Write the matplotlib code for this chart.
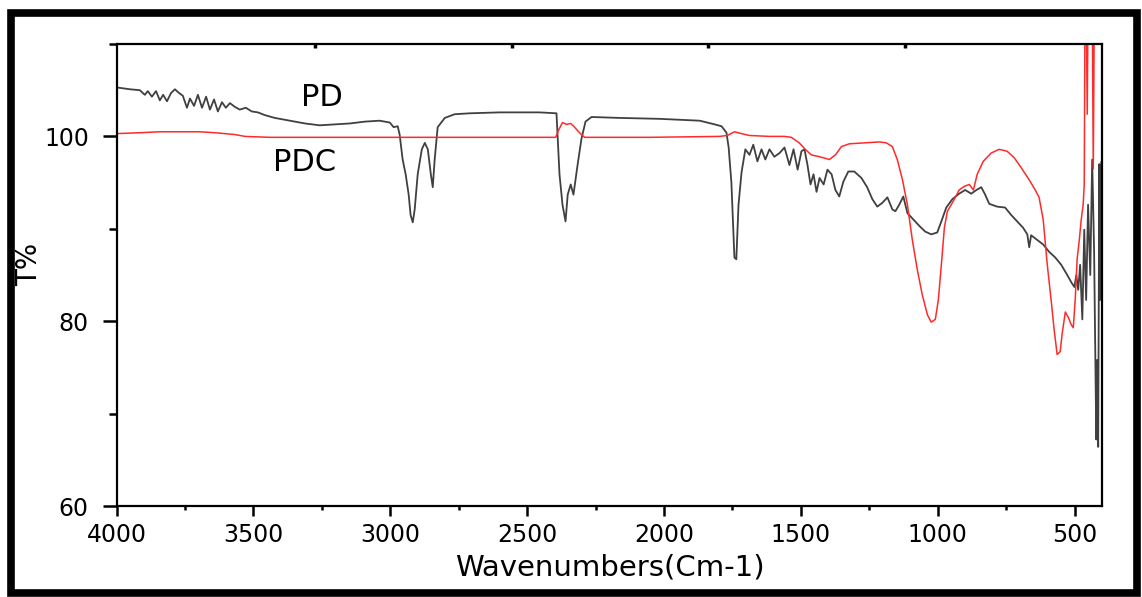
import numpy as np
import matplotlib
matplotlib.use("Agg")
import matplotlib.pyplot as plt
from matplotlib.patches import Rectangle
from matplotlib.ticker import MultipleLocator

plt.rcParams['font.family'] = ['DejaVu Sans']

# PD spectrum (wavenumber, %T)
pd_wn = [4000, 3951, 3915, 3897, 3886, 3871, 3856, 3842, 3830, 3816, 3801, 3787,
         3772, 3758, 3743, 3732, 3717, 3703, 3688, 3673, 3659, 3644, 3630, 3615,
         3601, 3586, 3568, 3550, 3528, 3506, 3484, 3458, 3422, 3367, 3312, 3258,
         3203, 3148, 3093, 3039, 3002, 2988, 2973, 2966, 2955, 2944, 2933, 2926,
         2918, 2911, 2900, 2885, 2874, 2863, 2852, 2845, 2838, 2827, 2801, 2765,
         2710, 2601, 2455, 2393, 2382, 2371, 2360, 2352, 2341, 2331, 2316, 2302,
         2287, 2265, 2162, 2016, 1870, 1815, 1790, 1772, 1764, 1754, 1743, 1736,
         1728, 1717, 1703, 1688, 1674, 1659, 1644, 1630, 1615, 1597, 1578, 1560,
         1542, 1527, 1512, 1498, 1487, 1476, 1465, 1454, 1443, 1432, 1417, 1403,
         1388, 1374, 1360, 1345, 1327, 1305, 1279, 1258, 1239, 1221, 1203, 1184,
         1166, 1155, 1141, 1126, 1111, 1089, 1067, 1046, 1024, 1002, 987, 969,
         947, 922, 900, 878, 859, 841, 827, 812, 783, 754, 732, 710,
         688, 673, 666, 659, 637, 615, 593, 571, 549, 527, 512, 501,
         494, 487, 480, 472, 465, 458, 451, 443, 436, 429, 421, 418,
         414, 410, 407, 403]
pd_t = [105.3, 105.1, 105.0, 104.5, 104.9, 104.3, 104.9, 103.9, 104.5, 103.8, 104.7, 105.1,
        104.7, 104.4, 103.1, 104.1, 103.3, 104.5, 103.1, 104.3, 102.9, 104.0, 102.7, 103.7,
        103.1, 103.6, 103.2, 102.9, 103.1, 102.7, 102.6, 102.3, 102.0, 101.7, 101.4, 101.2,
        101.3, 101.4, 101.6, 101.7, 101.5, 101.0, 101.1, 100.2, 97.5, 95.9, 93.7, 91.5,
        90.7, 92.1, 95.9, 98.6, 99.3, 98.6, 95.9, 94.5, 97.5, 101.0, 102.0, 102.4,
        102.5, 102.6, 102.6, 102.5, 95.9, 92.6, 90.8, 93.7, 94.8, 93.7, 96.9, 99.7,
        101.6, 102.1, 102.0, 101.9, 101.7, 101.3, 101.1, 100.4, 98.8, 95.0, 86.9, 86.7,
        92.6, 96.1, 98.6, 98.0, 99.1, 97.3, 98.6, 97.5, 98.6, 97.8, 98.2, 98.8,
        96.9, 98.6, 96.4, 98.4, 98.6, 96.9, 94.8, 95.9, 94.0, 95.5, 94.8, 96.4,
        95.9, 94.2, 93.5, 95.1, 96.2, 96.2, 95.5, 94.5, 93.2, 92.4, 92.8, 93.4,
        92.1, 91.9, 92.6, 93.5, 91.7, 91.0, 90.3, 89.7, 89.4, 89.6, 90.8, 92.3,
        93.2, 93.8, 94.2, 93.8, 94.2, 94.5, 93.7, 92.7, 92.4, 92.3, 91.5, 90.8,
        90.1, 89.4, 88.0, 89.3, 88.8, 88.3, 87.5, 86.9, 86.1, 85.0, 84.2, 83.7,
        85.0, 83.4, 86.1, 80.2, 89.9, 82.3, 92.6, 85.0, 97.5, 87.7, 67.2, 75.8,
        66.4, 97.0, 82.3, 97.2]

# PDC spectrum
pdc_wn = [4000, 3915, 3842, 3768, 3696, 3641, 3604, 3568, 3531, 3440, 3148, 2783,
          2396, 2385, 2371, 2356, 2341, 2327, 2309, 2290, 2053, 1798, 1769, 1743,
          1717, 1688, 1615, 1560, 1535, 1506, 1484, 1462, 1432, 1396, 1374, 1352,
          1323, 1268, 1214, 1188, 1166, 1148, 1129, 1111, 1093, 1075, 1057, 1038,
          1024, 1009, 998, 987, 976, 965, 951, 936, 922, 903, 885, 870,
          856, 834, 805, 776, 747, 721, 695, 666, 644, 630, 615, 600,
          586, 575, 564, 553, 545, 534, 523, 512, 505, 498, 491, 483,
          476, 469, 465, 462, 458, 454, 451, 444, 440, 436, 432, 428, 424]
pdc_t = [100.3, 100.4, 100.5, 100.5, 100.5, 100.4, 100.3, 100.2, 100.0, 99.9, 99.9, 99.9,
         99.9, 100.7, 101.5, 101.3, 101.4, 101.0, 100.4, 99.9, 99.9, 100.0, 100.1, 100.5,
         100.3, 100.1, 100.0, 100.0, 99.9, 99.3, 98.6, 98.0, 97.8, 97.5, 98.0, 98.9,
         99.2, 99.3, 99.4, 99.3, 98.9, 97.5, 95.3, 92.6, 88.8, 85.6, 82.9, 80.7,
         79.9, 80.2, 82.3, 86.1, 90.1, 91.9, 92.6, 93.4, 94.2, 94.6, 94.8, 94.2,
         95.9, 97.3, 98.2, 98.6, 98.4, 97.7, 96.6, 95.3, 94.2, 93.4, 91.0, 86.1,
         82.3, 79.1, 76.4, 76.7, 78.8, 81.0, 80.4, 79.6, 79.3, 82.3, 86.7, 88.8,
         91.0, 92.6, 94.8, 115, 115, 102.4, 115, 115, 115, 115, 96.5, 115, 115]

x_ticks = [4000, 3500, 3000, 2500, 2000, 1500, 1000, 500]
y_ticks = [60, 80, 100]
top_marks = [3275, 2557, 1838, 1119]

fig = plt.figure(figsize=(11.42, 5.97), dpi=100)
ax = fig.add_axes([0.1021, 0.1524, 0.8629, 0.7739])

ax.plot(pd_wn, pd_t, color='#404040', lw=1.3)
ax.plot(pdc_wn, pdc_t, color='#ff2a2a', lw=1.1)

ax.set_xlim(4000, 400)
ax.set_ylim(60, 110)
ax.set_xticks(x_ticks)
ax.set_yticks(y_ticks)
ax.xaxis.set_minor_locator(MultipleLocator(250))
ax.yaxis.set_minor_locator(MultipleLocator(10))

ax.tick_params(axis='x', which='major', length=7, width=1.8, pad=5, labelsize=17, direction='out')
ax.tick_params(axis='x', which='minor', length=3, width=1.8, direction='out')
ax.tick_params(axis='y', which='major', length=10, width=1.8, pad=10, labelsize=17, direction='out')
ax.tick_params(axis='y', which='minor', length=6, width=1.8, direction='out')
for s in ax.spines.values():
    s.set_linewidth(1.6)

top = ax.secondary_xaxis('top')
top.set_xticks(top_marks)
top.tick_params(direction='in', length=3, width=2.5, labeltop=False)
top.spines['top'].set_visible(False)

ax.set_xlabel('Wavenumbers(Cm-1)', fontsize=21)
ax.set_ylabel('T%', fontsize=20)
ax.xaxis.set_label_coords(0.5007, -0.102)
ax.yaxis.set_label_coords(-0.075, 0.522)

ax.text(3250, 104.2, 'PD', fontsize=22, ha='center', va='center')
ax.text(3312, 97.2, 'PDC', fontsize=22, ha='center', va='center')

fig.add_artist(Rectangle((0.0096, 0.0067), 0.986, 0.9715, transform=fig.transFigure,
                         fill=False, edgecolor='black', lw=5.5))

plt.savefig('out.png', dpi=100)
